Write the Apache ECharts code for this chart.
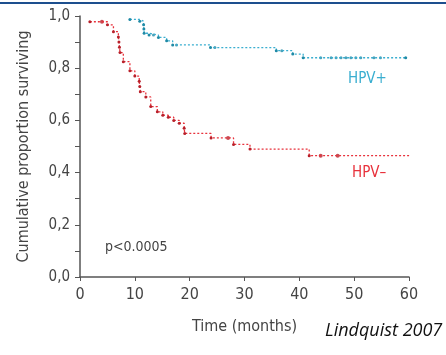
<!DOCTYPE html>
<html>
<head>
<meta charset="utf-8">
<script src="https://cdn.jsdelivr.net/npm/echarts@6/dist/echarts.min.js"></script>
<style>
  html, body { margin: 0; padding: 0; background: #fff; }
  #chart { width: 446px; height: 355px; }
</style>
</head>
<body>
<div id="chart"></div>
<script>
// Kaplan-Meier steps, [months, proportion]
const hpvNegSteps = [
  [1.8, 0.978], [5.0, 0.966], [6.1, 0.94], [7.0, 0.92], [7.1, 0.90], [7.2, 0.88], [7.3, 0.86],
  [7.9, 0.825], [9.1, 0.79], [10.0, 0.77], [10.8, 0.75], [10.9, 0.73], [11.0, 0.71],
  [12.0, 0.69], [12.9, 0.653], [14.1, 0.633], [15.1, 0.62], [16.1, 0.612], [17.1, 0.60],
  [18.1, 0.589], [19.0, 0.57], [19.1, 0.55], [23.9, 0.533], [28.0, 0.508], [31.0, 0.49],
  [41.8, 0.465], [60.8, 0.465]
];
const hpvNegCensored = [
  [4.0, 0.978], [27.0, 0.533], [43.9, 0.465], [47.0, 0.465]
];
const hpvPosSteps = [
  [9.1, 0.987], [10.9, 0.98], [11.6, 0.966], [11.65, 0.95], [11.7, 0.934], [12.6, 0.927],
  [14.3, 0.918], [15.8, 0.905], [16.9, 0.889], [23.8, 0.879], [35.8, 0.867], [38.8, 0.854],
  [40.7, 0.84], [59.4, 0.84]
];
const hpvPosCensored = [
  [13.4, 0.927], [17.6, 0.889], [24.6, 0.879], [36.8, 0.867], [43.9, 0.84], [45.8, 0.84],
  [46.7, 0.84], [47.6, 0.84], [48.5, 0.84], [49.4, 0.84], [50.3, 0.84], [51.2, 0.84],
  [53.6, 0.84], [54.8, 0.84]
];
const xTicks = [0, 10, 20, 30, 40, 50, 60];

const font = '"DejaVu Sans Condensed", "Liberation Sans Narrow", "Roboto Condensed", sans-serif';
const red = '#e8323c';
const blue = '#3aaed0';

let chartDom = document.getElementById('chart');
let myChart = echarts.init(chartDom);
let option;
option = {
  backgroundColor: '#fff',
  animation: false,
  grid: { left: 80, right: 37, top: 16, bottom: 78 },
  xAxis: {
    type: 'value',
    min: xTicks[0],
    max: xTicks[xTicks.length - 1],
    interval: 10,
    name: 'Time (months)',
    nameLocation: 'middle',
    nameGap: 42,
    nameTextStyle: { fontFamily: font, fontSize: 16, color: '#444' },
    axisLine: { lineStyle: { color: '#555', width: 1.5 } },
    axisTick: { length: 4, lineStyle: { color: '#555' } },
    axisLabel: { fontFamily: font, fontSize: 16, color: '#444', margin: 10 },
    splitLine: { show: false }
  },
  yAxis: {
    type: 'value',
    min: 0,
    max: 1,
    interval: 0.1,
    name: 'Cumulative proportion surviving',
    nameLocation: 'middle',
    nameRotate: 90,
    nameGap: 48,
    nameTextStyle: { fontFamily: font, fontSize: 16, color: '#444' },
    axisLine: { show: true, lineStyle: { color: '#555', width: 1.5 } },
    axisTick: { show: true, length: 5, lineStyle: { color: '#555' } },
    axisLabel: {
      fontFamily: font, fontSize: 15, color: '#444', margin: 10,
      formatter: function (v) {
        return Math.round(v * 10) % 2 === 0 ? v.toFixed(1).replace('.', ',') : '';
      }
    },
    splitLine: { show: false }
  },
  graphic: [
    { type: 'rect', left: 0, top: 2, shape: { width: 446, height: 2 }, style: { fill: '#1d4f8e' } },
    { type: 'text', left: 348, top: 72, style: { text: 'HPV+', fill: blue, font: '15px ' + font } },
    { type: 'text', left: 352, top: 166, style: { text: 'HPV\u2013', fill: red, font: '15px ' + font } },
    { type: 'text', left: 105, top: 240, style: { text: 'p<0.0005', fill: '#444', font: '14px ' + font } },
    { type: 'text', left: 325, top: 322, style: { text: 'Lindquist 2007', fill: '#111', font: 'italic 18px "Open Sans"' } }
  ],
  series: [
    {
      type: 'line',
      step: 'end',
      data: hpvNegSteps,
      showSymbol: true,
      symbol: 'circle',
      symbolSize: 3,
      itemStyle: { color: '#b8202a' },
      lineStyle: { color: red, width: 1.3, type: [2, 2] }
    },
    {
      type: 'scatter',
      data: hpvNegCensored,
      symbol: 'circle',
      symbolSize: 4,
      itemStyle: { color: '#b8202a' }
    },
    {
      type: 'line',
      step: 'end',
      data: hpvPosSteps,
      showSymbol: true,
      symbol: 'circle',
      symbolSize: 3,
      itemStyle: { color: '#1f8aa6' },
      lineStyle: { color: blue, width: 1.3, type: [2, 2] }
    },
    {
      type: 'scatter',
      data: hpvPosCensored,
      symbol: 'circle',
      symbolSize: 3,
      itemStyle: { color: '#1f8aa6' }
    }
  ]
};

option && myChart.setOption(option);
</script>
</body>
</html>
